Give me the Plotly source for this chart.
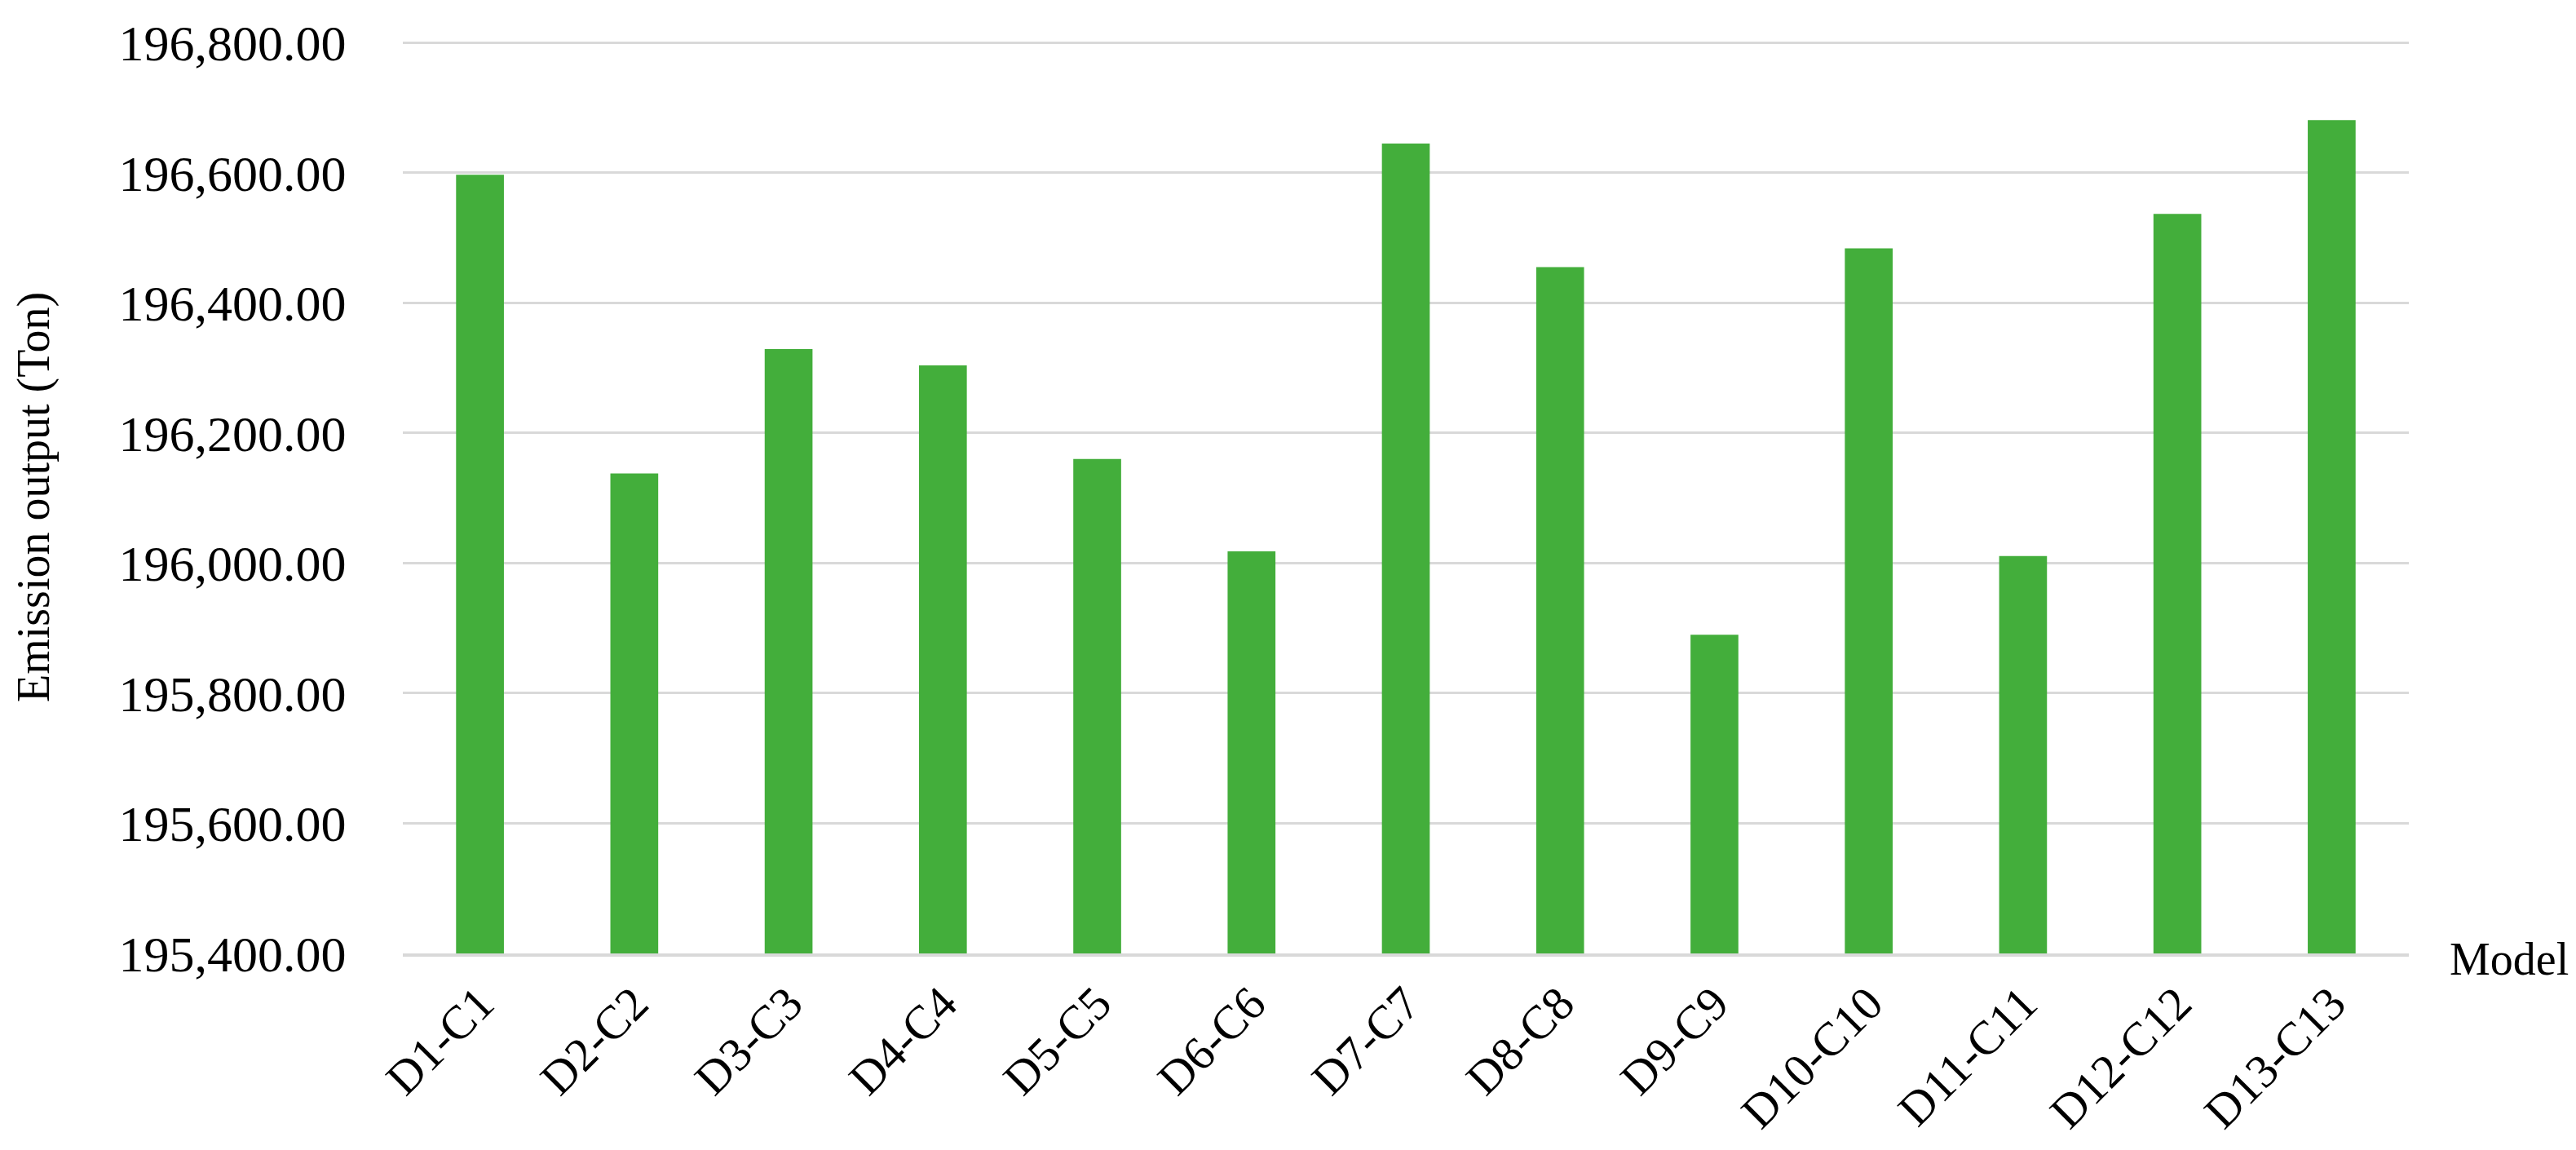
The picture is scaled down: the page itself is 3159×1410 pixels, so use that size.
import plotly.graph_objects as go

categories = ["D1-C1", "D2-C2", "D3-C3", "D4-C4", "D5-C5", "D6-C6", "D7-C7",
              "D8-C8", "D9-C9", "D10-C10", "D11-C11", "D12-C12", "D13-C13"]
emissions = [196597, 196138, 196329, 196304, 196160, 196018, 196645,
             196455, 195890, 196484, 196011, 196537, 196681]
y_ticks = [195400, 195600, 195800, 196000, 196200, 196400, 196600, 196800]

# page body has an 8px margin; figure coordinates are offset by it
OFF = 8
W, H = 3159 - 2 * OFF, 1410 - 2 * OFF
L = 494 - OFF
T = 52 - OFF - 2
R = W - (2954 - OFF)
B = H - (1169 - OFF)
FONT = "Liberation Serif, Times New Roman, serif"

fig = go.Figure(go.Bar(
    x=categories, y=emissions,
    marker=dict(color="#43AE3B", line=dict(width=0)),
))

fig.update_layout(
    width=W, height=H,
    margin=dict(l=L, r=R, t=T, b=B, autoexpand=False),
    paper_bgcolor="white", plot_bgcolor="white",
    bargap=0.69,
    showlegend=False,
    font=dict(family=FONT, color="black", size=62),
)

fig.update_xaxes(
    type="category",
    tickangle=-45,
    tickfont=dict(family=FONT, size=58, color="black"),
    showgrid=False,
    showline=True, linecolor="#d9d9d9", linewidth=4,
    ticks="",
    zeroline=False,
)

fig.update_yaxes(
    range=[195400, 196803],
    tickvals=y_ticks,
    tickformat=",.2f",
    tickfont=dict(family=FONT, size=62, color="black"),
    showgrid=True, gridcolor="#d9d9d9", gridwidth=3,
    showline=False, zeroline=False,
    ticks="outside", ticklen=56, tickcolor="rgba(0,0,0,0)",
)

pw = W - L - R
ph = H - T - B
fig.add_annotation(
    text="Emission output (Ton)", textangle=-90,
    xref="paper", yref="paper",
    x=(41 - OFF - L) / pw, y=(H - B - (610 - OFF)) / ph,
    xanchor="center", yanchor="middle",
    showarrow=False, font=dict(family=FONT, size=56, color="black"),
)
fig.add_annotation(
    text="Model",
    xref="paper", yref="paper",
    x=(3002 - OFF - L) / pw, y=(H - B - (1176 - OFF)) / ph,
    xanchor="left", yanchor="middle",
    showarrow=False, font=dict(family=FONT, size=56, color="black"),
)

fig.write_html("out.html")
